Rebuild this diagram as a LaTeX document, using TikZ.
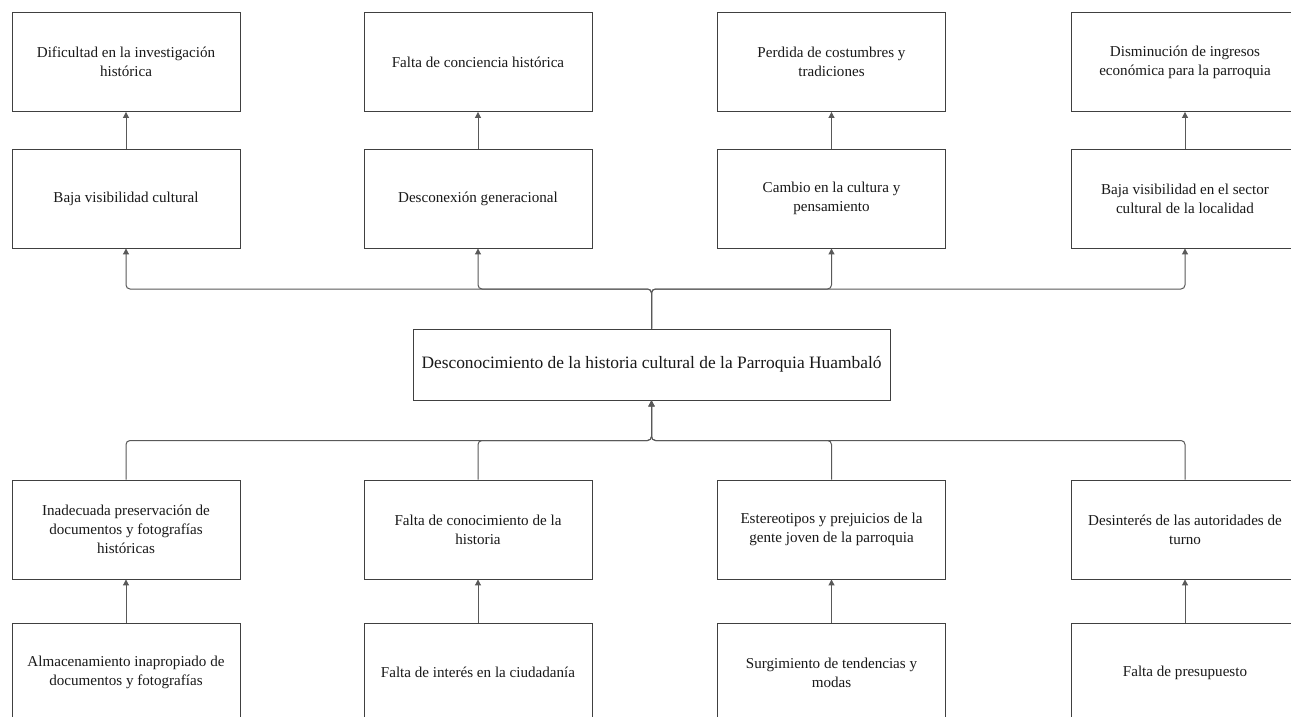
\documentclass[tikz,border=0pt]{standalone}
\usepackage{fontspec}
\setmainfont{Liberation Serif}
\usetikzlibrary{arrows.meta}
\begin{document}
\begin{tikzpicture}[x=1pt,y=-1pt,
  box/.style={draw=black!75, line width=0.9pt, rectangle, minimum width=228pt, minimum height=99pt,
    inner sep=0pt, align=center, text=black!90, font=\fontsize{15.1}{18.8}\selectfont},
  mainbox/.style={draw=black!75, line width=0.9pt, rectangle, minimum width=477pt, minimum height=71pt,
    inner sep=0pt, align=center, text=black!90, font=\fontsize{17.4}{20}\selectfont},
  conn/.style={draw=black!65, line width=1pt, rounded corners=4pt,
    -{Triangle[width=6pt,length=6pt]}}]
\useasboundingbox (0,0) rectangle (1291,717);
\clip (0,0) rectangle (1291,717);
\fill[white] (0,0) rectangle (1291,717);

% effects
\node[box] (e1) at (126,62) {Dificultad en la investigación\\histórica};
\node[box] (e2) at (478,62) {Falta de conciencia histórica};
\node[box] (e3) at (831.5,62) {Perdida de costumbres y\\tradiciones};
\node[box] (e4) at (1185,62) {Disminución de ingresos\\económica para la parroquia};

\node[box] (f1) at (126,198.5) {Baja visibilidad cultural};
\node[box] (f2) at (478,198.5) {Desconexión generacional};
\node[box] (f3) at (831.5,198.5) {Cambio en la cultura y\\pensamiento};
\node[box] (f4) at (1185,198.5) {Baja visibilidad en el sector\\cultural de la localidad};

% central problem
\node[mainbox] (p) at (651.5,364.5) {Desconocimiento de la historia cultural de la Parroquia Huambaló};

% causes
\node[box] (c1) at (126,529.5) {Inadecuada preservación de\\documentos y fotografías\\históricas};
\node[box] (c2) at (478,529.5) {Falta de conocimiento de la\\historia};
\node[box] (c3) at (831.5,529.5) {Estereotipos y prejuicios de la\\gente joven de la parroquia};
\node[box] (c4) at (1185,529.5) {Desinterés de las autoridades de\\turno};

\node[box] (d1) at (126,672.5) {Almacenamiento inapropiado de\\documentos y fotografías};
\node[box] (d2) at (478,672.5) {Falta de interés en la ciudadanía};
\node[box] (d3) at (831.5,672.5) {Surgimiento de tendencias y\\modas};
\node[box] (d4) at (1185,672.5) {Falta de presupuesto};

\coordinate (tb) at (651.5,289);
\coordinate (bb) at (651.5,440.5);

\foreach \i in {1,2,3,4}{
  \draw[conn] (f\i.north) -- (e\i.south);
  \draw[conn] (d\i.north) -- (c\i.south);
  \draw[conn] (p.north) -- (tb) -| (f\i.south);
  \draw[conn] (c\i.north) |- (bb) -- (p.south);
}
\end{tikzpicture}
\end{document}
